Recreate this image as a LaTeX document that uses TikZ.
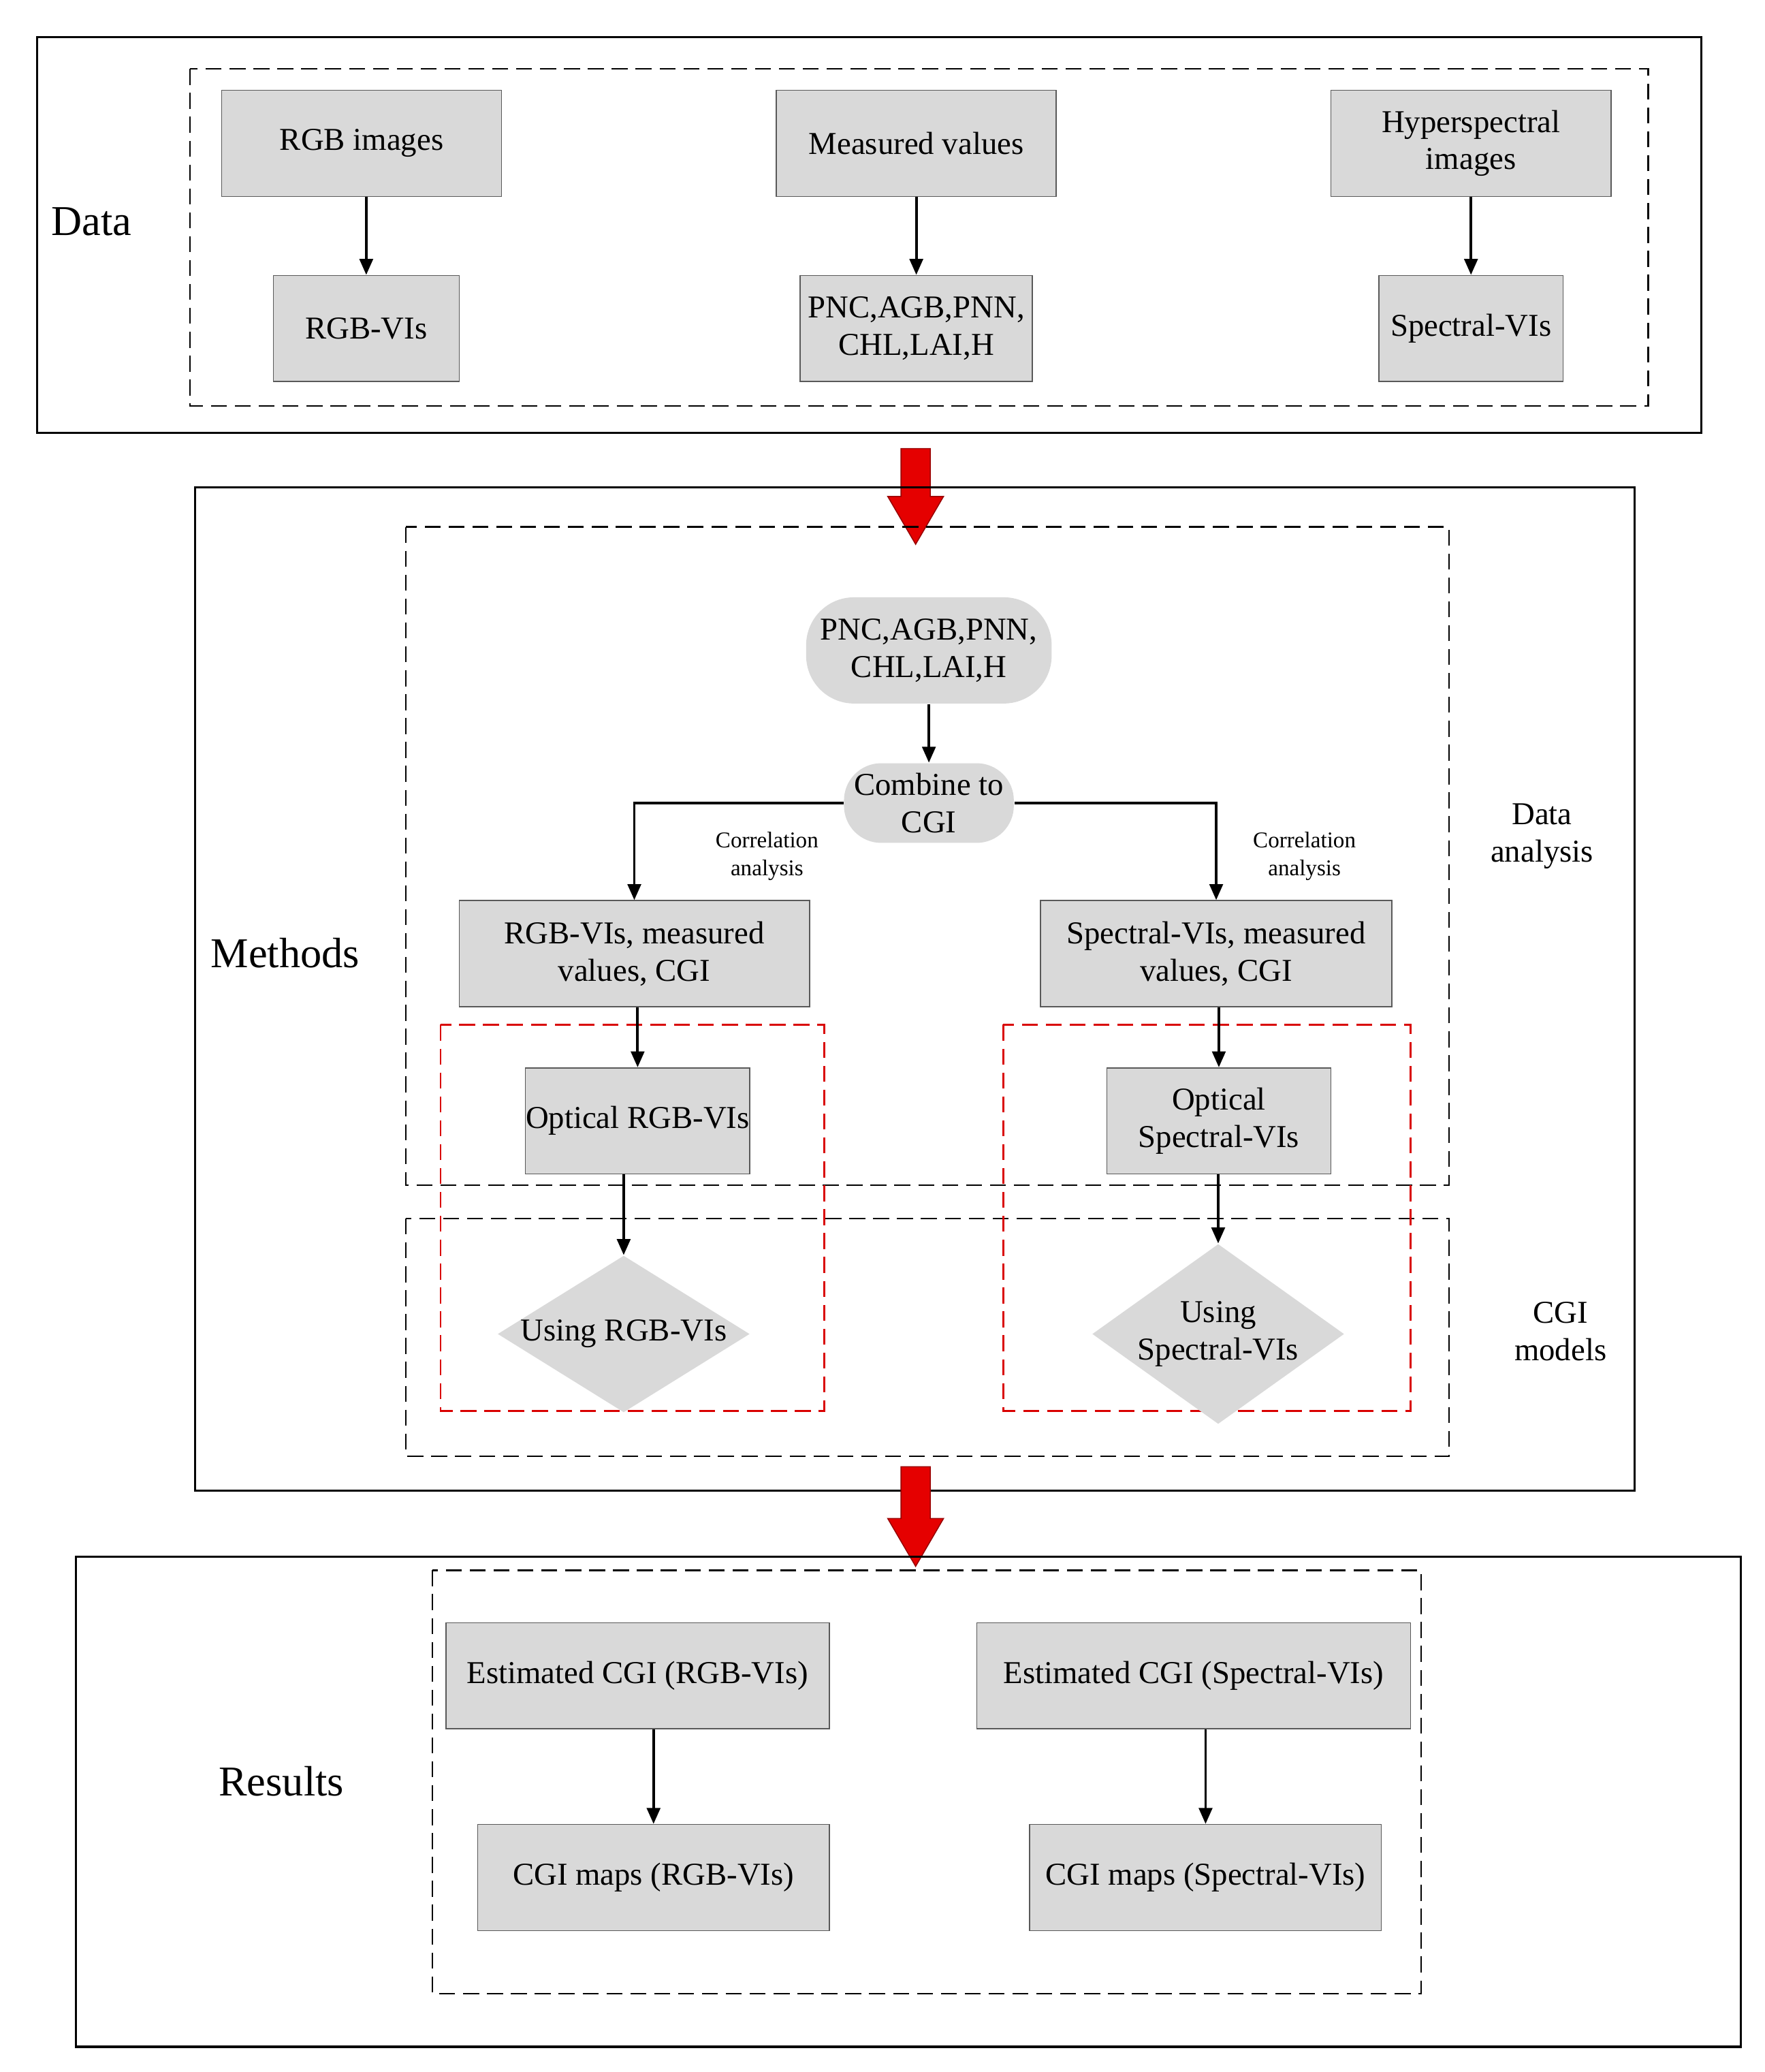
\documentclass[tikz,border=0pt]{standalone}
\usepackage{fontspec}
\setmainfont{Liberation Serif}
\usetikzlibrary{shapes.geometric,arrows.meta}
\newcommand\redblockarrow[3]{% x, ytop, ybottom
  \fill[red!90!black,draw=red!60!black] (#1-11,#2) -- (#1+11,#2) -- (#1+11,#3-36) -- (#1+21,#3-36) -- (#1,#3) -- (#1-21,#3-36) -- (#1-11,#3-36) -- cycle;}
\begin{document}
\begin{tikzpicture}[x=0.5pt,y=-0.5pt,
  box/.style={draw=gray!70!black,fill=gray!30,font=\fontsize{12}{14}\selectfont,align=center,inner sep=0pt},
  outer/.style={draw=black,line width=0.8pt},
  dbox/.style={draw=black,dash pattern=on 6pt off 3pt,line width=0.6pt},
  rdash/.style={draw=red!85!black,dash pattern=on 6pt off 3pt,line width=0.7pt},
  arr/.style={-{Triangle[length=6pt,width=5pt]},line width=1pt},
  lab/.style={font=\fontsize{16}{19}\selectfont,align=center},
  sm/.style={font=\fontsize{12}{14}\selectfont,align=center},
  tiny/.style={font=\fontsize{8.5}{10.5}\selectfont,align=center}]
\useasboundingbox (0,0) rectangle (1330,1561);
% Data
\draw[outer] (28,28) rectangle (1282,326);
\draw[dbox] (143,52) rectangle (1242,306);
\node[lab] (ldata) at (69,167) {Data};
\node[box,minimum width=105.5pt,minimum height=40pt] (rgbimg) at (272.5,108) {RGB images};
\node[box,minimum width=105.5pt,minimum height=40pt] (meas) at (690.5,108) {Measured values};
\node[box,minimum width=105.5pt,minimum height=40pt] (hyp) at (1108.5,108) {Hyperspectral\\images};
\node[box,minimum width=70pt,minimum height=40pt] (rgbvi) at (276,247.5) {RGB-VIs};
\node[box,minimum width=87.5pt,minimum height=40pt] (pnc1) at (690.5,247.5) {PNC,AGB,PNN,\\CHL,LAI,H};
\node[box,minimum width=69.5pt,minimum height=40pt] (specvi) at (1108.5,247.5) {Spectral-VIs};
\draw[arr] (rgbimg.south -| rgbvi) -- (rgbvi.north);
\draw[arr] (meas) -- (pnc1);
\draw[arr] (hyp) -- (specvi);
\redblockarrow{690}{338}{410}
% Methods
\draw[outer] (147,367) rectangle (1232,1123);
\draw[dbox] (306,397) rectangle (1092,893);
\draw[dbox] (306,918) rectangle (1092,1097);
\node[lab] (lmeth) at (215,718) {Methods};
\node[sm] (lda) at (1162,630) {Data\\analysis};
\node[sm] (lcgi) at (1176,1003) {CGI\\models};
\node[box,draw=none,rounded corners=18pt,minimum width=92.5pt,minimum height=40pt] (pnc2) at (700,490) {PNC,AGB,PNN,\\CHL,LAI,H};
\node[box,draw=none,rounded corners=14pt,minimum width=64pt,minimum height=30pt] (comb) at (700,605) {Combine to\\CGI};
\draw[arr] (pnc2) -- (comb);
\node[box,minimum width=132pt,minimum height=40pt] (rgbm) at (478,718.5) {RGB-VIs, measured\\values, CGI};
\node[box,minimum width=132.5pt,minimum height=40pt] (specm) at (916.5,718.5) {Spectral-VIs, measured\\values, CGI};
\draw[arr] (comb.west) -| (rgbm.north);
\draw[arr] (comb.east) -| (specm.north);
\node[tiny] (c1) at (578,645) {Correlation\\analysis};
\node[tiny] (c2) at (983,645) {Correlation\\analysis};
\draw[rdash] (332,772) rectangle (621,1063);
\draw[rdash] (756,772) rectangle (1063,1063);
\node[box,minimum width=84.5pt,minimum height=40pt] (optr) at (480.5,844.5) {Optical RGB-VIs};
\node[box,minimum width=84.5pt,minimum height=40pt] (opts) at (918.5,844.5) {Optical\\Spectral-VIs};
\draw[arr] (rgbm.south -| optr) -- (optr.north);
\draw[arr] (specm.south -| opts) -- (opts.north);
\node[box,draw=none,diamond,aspect=1.6,minimum width=95pt,minimum height=59pt] (user) at (470,1005) {Using RGB-VIs};
\node[box,draw=none,diamond,aspect=1.4,minimum width=84pt,minimum height=59pt] (uses) at (918,1005) {Using\\Spectral-VIs};
\draw[arr] (optr.south -| user) -- (user.north);
\draw[arr] (opts.south -| uses) -- (uses.north);
\redblockarrow{690}{1105}{1180}
% Results
\draw[outer] (57,1173) rectangle (1312,1542);
\draw[dbox] (326,1183) rectangle (1071,1502);
\node[lab] (lres) at (212,1342) {Results};
\node[box,minimum width=144.5pt,minimum height=40pt] (estr) at (480.5,1262.5) {Estimated CGI (RGB-VIs)};
\node[box,minimum width=163.5pt,minimum height=40pt] (ests) at (899.5,1262.5) {Estimated CGI (Spectral-VIs)};
\node[box,minimum width=132.5pt,minimum height=40pt] (mapr) at (492.5,1414.5) {CGI maps (RGB-VIs)};
\node[box,minimum width=132.5pt,minimum height=40pt] (maps) at (908.5,1414.5) {CGI maps (Spectral-VIs)};
\draw[arr] (estr.south -| mapr) -- (mapr.north);
\draw[arr] (ests.south -| maps) -- (maps.north);
\end{tikzpicture}
\end{document}
